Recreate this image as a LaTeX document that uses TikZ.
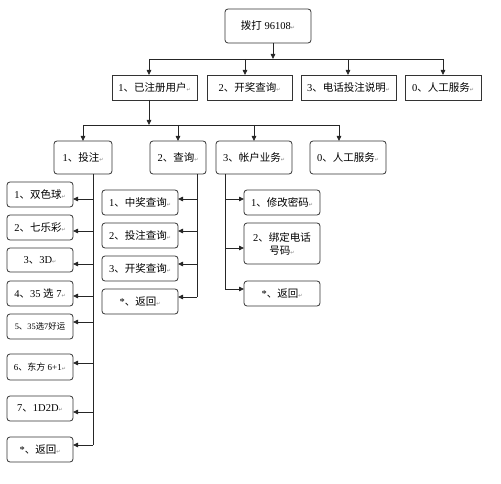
\documentclass[tikz,border=0pt]{standalone}
\usepackage{fontspec}
\setmainfont{Liberation Serif}
\newfontfamily\cjk{Noto Sans CJK SC}
\newfontfamily\djv{DejaVu Sans}
\usetikzlibrary{arrows.meta}
\newcommand\zh[1]{{\cjk #1}}
\newcommand\pmk{{\djv\fontsize{5}{5}\selectfont\color{gray}↵}}
\tikzset{
  base/.style={draw=black!80, line width=0.8pt, fill=white, inner sep=1pt, outer sep=0pt,
    font=\fontsize{10.5}{13}\selectfont, align=center},
  rbox/.style={base, rounded corners=3pt},
  sbox/.style={base},
  arr/.style={draw=black!85, line width=0.8pt, -{Triangle[length=5pt,width=4.5pt]}},
  ln/.style={draw=black!85, line width=0.8pt},
}
\begin{document}
\begin{tikzpicture}[x=1pt,y=-1pt]
\useasboundingbox (0,0) rectangle (501,484);
% top
\node[rbox, minimum width=86pt, minimum height=34pt] (top) at (268,26) {\zh{拨打} 96108\pmk};
% level 1
\node[sbox, minimum width=85pt, minimum height=25pt] (la) at (154.5,87.5) {1\zh{、已注册用户}\pmk};
\node[sbox, minimum width=85pt, minimum height=25pt] (lb) at (249.5,87.5) {2\zh{、开奖查询}\pmk};
\node[sbox, minimum width=95pt, minimum height=25pt] (lc) at (348.5,87.5) {3\zh{、电话投注说明}\pmk};
\node[sbox, minimum width=76pt, minimum height=25pt] (ld) at (443,87.5) {0\zh{、人工服务}\pmk};
% level 2
\node[rbox, minimum width=58pt, minimum height=33pt] (ma) at (83,157.5) {1\zh{、投注}\pmk};
\node[rbox, minimum width=56pt, minimum height=33pt] (mb) at (178,157.5) {2\zh{、查询}\pmk};
\node[rbox, minimum width=76pt, minimum height=33pt] (mc) at (254,157.5) {3\zh{、帐户业务}\pmk};
\node[rbox, minimum width=76pt, minimum height=33pt] (md) at (348,157.5) {0\zh{、人工服务}\pmk};
% left leaves
\node[rbox, minimum width=66pt, minimum height=25pt] (p1) at (40,194.5) {1\zh{、双色球}\pmk};
\node[rbox, minimum width=66pt, minimum height=25pt] (p2) at (40,227.5) {2\zh{、七乐彩}\pmk};
\node[rbox, minimum width=66pt, minimum height=24pt] (p3) at (40,260) {3\zh{、}3D\pmk};
\node[rbox, minimum width=66pt, minimum height=25pt] (p4) at (40,293.5) {4\zh{、}35 \zh{选} 7\pmk};
\node[rbox, minimum width=66pt, minimum height=25pt, font=\fontsize{8.4}{10}\selectfont] (p5) at (40,326.5) {5\zh{、}35\zh{选}7\zh{好运}};
\node[rbox, minimum width=66pt, minimum height=26pt, font=\fontsize{9}{11}\selectfont] (p6) at (40,367) {6\zh{、东方} 6+1\pmk};
\node[rbox, minimum width=66pt, minimum height=25pt] (p7) at (40,408.5) {7\zh{、}1D2D\pmk};
\node[rbox, minimum width=66pt, minimum height=25pt] (p8) at (40,449.5) {*\zh{、返回}\pmk};
% middle leaves
\node[rbox, minimum width=76pt, minimum height=25pt] (q1) at (140,202.5) {1\zh{、中奖查询}\pmk};
\node[rbox, minimum width=76pt, minimum height=25pt] (q2) at (140,235.5) {2\zh{、投注查询}\pmk};
\node[rbox, minimum width=76pt, minimum height=25pt] (q3) at (140,268.5) {3\zh{、开奖查询}\pmk};
\node[rbox, minimum width=76pt, minimum height=25pt] (q4) at (140,301.5) {*\zh{、返回}\pmk};
% right leaves
\node[rbox, minimum width=76pt, minimum height=25pt] (r1) at (282,202.5) {1\zh{、修改密码}\pmk};
\node[rbox, minimum width=76pt, minimum height=41pt] (r2) at (282,243.5) {2\zh{、绑定电话}\\\zh{号码}\pmk};
\node[rbox, minimum width=76pt, minimum height=25pt] (r3) at (282,293.5) {*\zh{、返回}\pmk};

% connectors top -> level 1
\coordinate (b0) at (273,59);
\coordinate (bL) at (149,59);
\coordinate (bR) at (443,59);
\draw[arr] (top.south -| b0) -- (b0);
\draw[ln] (bL) -- (bR);
\coordinate (t1) at (149,59);
\coordinate (t2) at (245,59);
\coordinate (t3) at (348,59);
\coordinate (t4) at (443,59);
\draw[arr] (t1) -- (t1 |- la.north);
\draw[arr] (t2) -- (t2 |- lb.north);
\draw[arr] (t3) -- (t3 |- lc.north);
\draw[arr] (t4) -- (t4 |- ld.north);

% level 1 -> level 2
\coordinate (c0) at (149,125);
\coordinate (cL) at (83,125);
\coordinate (cR) at (339,125);
\draw[arr] (la.south -| c0) -- (c0);
\draw[ln] (cL) -- (cR);
\coordinate (u1) at (83,125);
\coordinate (u2) at (178,125);
\coordinate (u3) at (254,125);
\coordinate (u4) at (339,125);
\draw[arr] (u1) -- (u1 |- ma.north);
\draw[arr] (u2) -- (u2 |- mb.north);
\draw[arr] (u3) -- (u3 |- mc.north);
\draw[arr] (u4) -- (u4 |- md.north);

% left branch
\coordinate (vl) at (93,445);
\draw[ln] (ma.south -| vl) -- (vl);
\foreach \n/\y in {p1/199,p2/231,p3/264,p4/296,p5/322,p6/363,p7/412,p8/445}{
  \coordinate (a\n) at (93,\y);
  \draw[arr] (a\n) -- (a\n -| \n.east);
}
% middle branch
\coordinate (vm) at (197,297);
\draw[ln] (mb.south -| vm) -- (vm);
\foreach \n/\y in {q1/199,q2/231,q3/264,q4/297}{
  \coordinate (a\n) at (197,\y);
  \draw[arr] (a\n) -- (a\n -| \n.east);
}
% right branch
\coordinate (vr) at (225,289);
\draw[ln] (mc.south -| vr) -- (vr);
\foreach \n/\y in {r1/199,r2/248,r3/289}{
  \coordinate (a\n) at (225,\y);
  \draw[arr] (a\n) -- (a\n -| \n.west);
}
\end{tikzpicture}
\end{document}
